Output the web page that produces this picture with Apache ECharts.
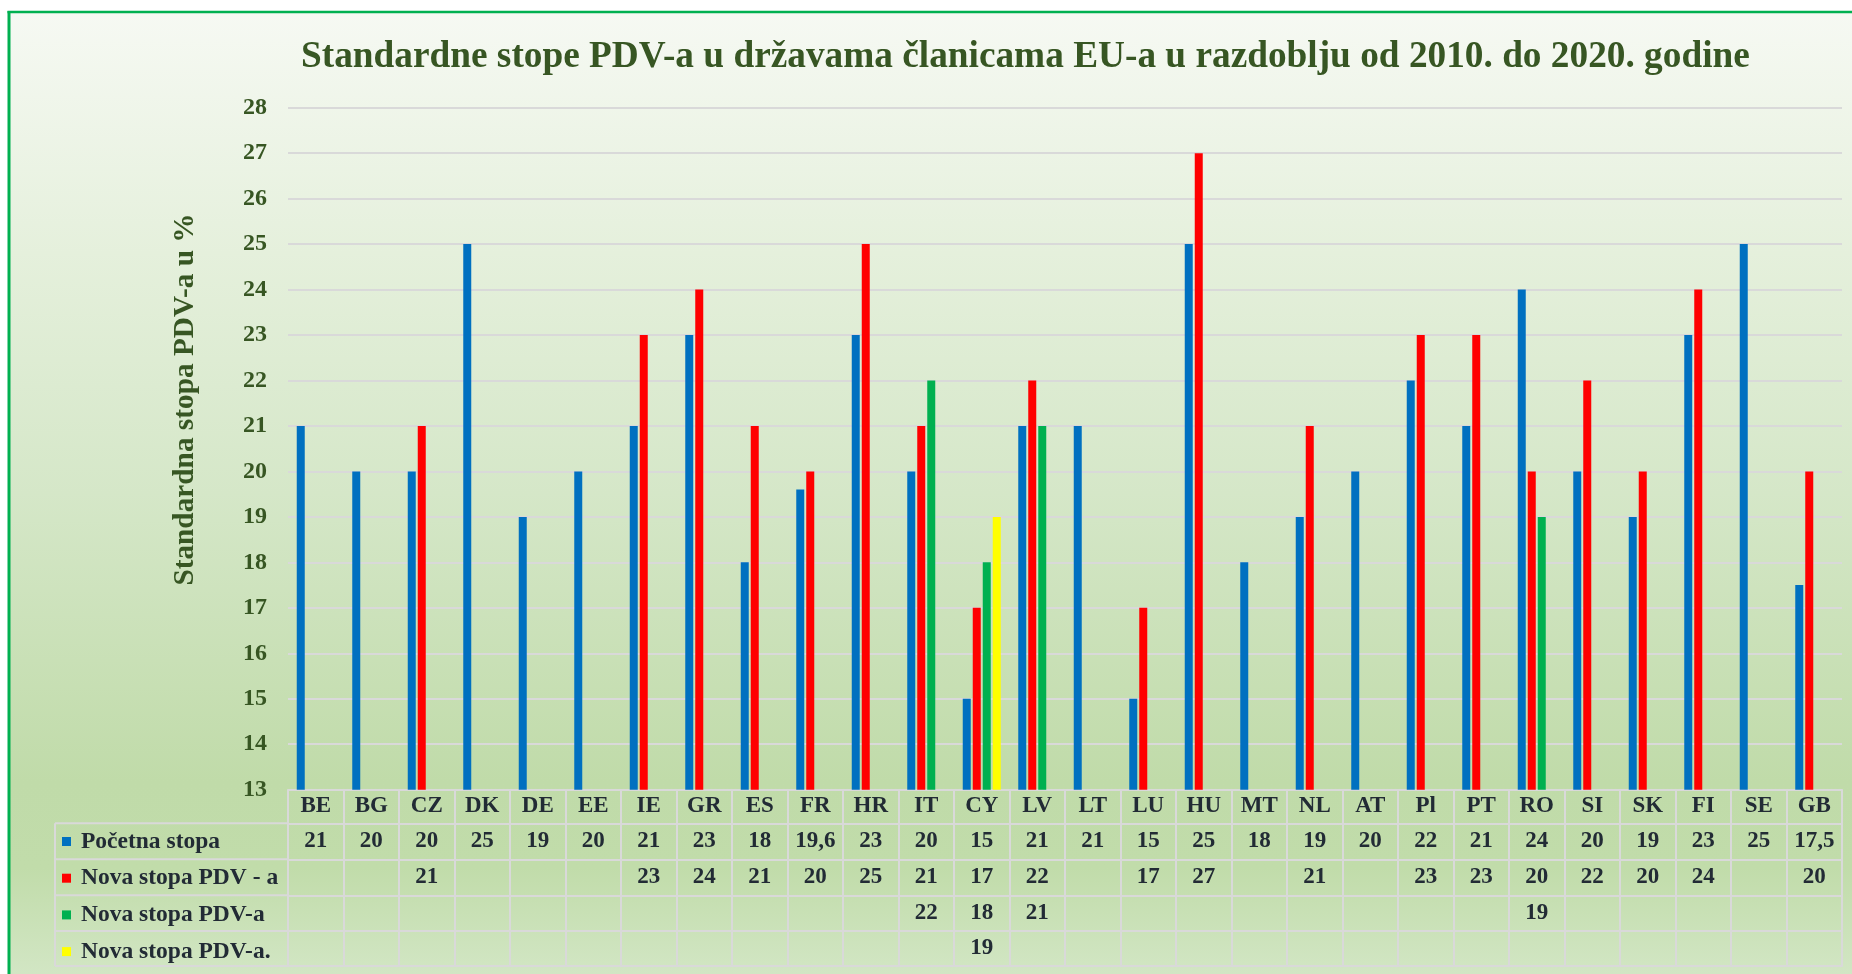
<!DOCTYPE html>
<html>
<head>
<meta charset="utf-8">
<script src="https://cdn.jsdelivr.net/npm/echarts@6/dist/echarts.min.js"></script>
<style>
  html, body { margin: 0; padding: 0; background: #ffffff; }
  #chart { width: 1852px; height: 974px; }
</style>
</head>
<body>
<div id="chart"></div>
<script>
// Standard VAT rates of EU member states, 2010–2020
const categories = ['BE','BG','CZ','DK','DE','EE','IE','GR','ES','FR','HR','IT','CY','LV','LT','LU','HU','MT','NL','AT','Pl','PT','RO','SI','SK','FI','SE','GB'];
const initialRate = [21,20,20,25,19,20,21,23,18,19.6,23,20,15,21,21,15,25,18,19,20,22,21,24,20,19,23,25,17.5];
const newRateA    = [null,null,21,null,null,null,23,24,21,20,25,21,17,22,null,17,27,null,21,null,23,23,20,22,20,24,null,20];
const newRateB    = [null,null,null,null,null,null,null,null,null,null,null,22,18,21,null,null,null,null,null,null,null,null,19,null,null,null,null,null];
const newRateC    = [null,null,null,null,null,null,null,null,null,null,null,null,19,null,null,null,null,null,null,null,null,null,null,null,null,null,null,null];
const seriesNames = ['Početna stopa','Nova stopa PDV - a','Nova stopa PDV-a','Nova stopa PDV-a.'];
const seriesColors = ['#0070c0','#ff0000','#00b050','#ffff00'];
const yMin = 13, yMax = 28, yStep = 1;

const titleText = 'Standardne stope PDV-a u državama članicama EU-a u razdoblju od 2010. do 2020. godine';
const yTitleText = 'Standardna stopa PDV-a u %';

// layout (pixels)
const W = 1852, H = 974;
const PLOT = { left: 288, right: 1842, top: 107.7, bottom: 789.7 };
const TABLE_LEFT = 55;
const ROW_LINES = [789.7, 823.3, 859.3, 895.3, 931, 966];

const FONT = 'Liberation Serif, Times New Roman, serif';
const DARK_GREEN = '#375623';
const TABLE_TEXT = '#222b35';
const RULE = '#d9d9d9';

const rows = [initialRate, newRateA, newRateB, newRateC];
const fmt = v => (v == null ? '' : String(v).replace('.', ','));

const tableLabel = {
  fontFamily: FONT, fontWeight: 'bold', fontSize: 23, color: TABLE_TEXT,
  verticalAlign: 'middle', interval: 0
};

// header row + data rows of the table under the plot, one category axis each
const xAxes = [{
  type: 'category', data: categories, position: 'bottom', offset: 0,
  axisLine: { show: true, onZero: false, lineStyle: { color: RULE, width: 2 } },
  axisTick: { show: true, length: ROW_LINES[1] - ROW_LINES[0], lineStyle: { color: RULE, width: 2 } },
  axisLabel: Object.assign({ margin: (ROW_LINES[1] - ROW_LINES[0]) / 2 }, tableLabel),
  splitLine: { show: false }
}];
rows.forEach((row, k) => {
  const top = ROW_LINES[k + 1], h = ROW_LINES[k + 2] - ROW_LINES[k + 1];
  xAxes.push({
    type: 'category', data: categories, position: 'bottom', offset: top - PLOT.bottom,
    axisLine: { show: true, onZero: false, lineStyle: { color: RULE, width: 2 } },
    axisTick: { show: true, length: h, lineStyle: { color: RULE, width: 2 } },
    axisLabel: Object.assign({ margin: h / 2, formatter: (v, i) => fmt(row[i]) }, tableLabel),
    splitLine: { show: false }
  });
});
xAxes.push({
  type: 'category', data: categories, position: 'bottom', offset: ROW_LINES[5] - PLOT.bottom,
  axisLine: { show: true, onZero: false, lineStyle: { color: RULE, width: 2 } },
  axisTick: { show: false }, axisLabel: { show: false }, splitLine: { show: false }
});

// rules of the row-header cells left of the plot
const leftRules = [];
for (let k = 1; k < ROW_LINES.length; k++) {
  leftRules.push({ type: 'line', z: 1, shape: { x1: TABLE_LEFT, y1: ROW_LINES[k], x2: PLOT.left, y2: ROW_LINES[k] },
    style: { stroke: RULE, lineWidth: 2 } });
}
leftRules.push({ type: 'line', z: 1, shape: { x1: TABLE_LEFT, y1: ROW_LINES[1], x2: TABLE_LEFT, y2: ROW_LINES[5] },
  style: { stroke: RULE, lineWidth: 2 } });

const chart = echarts.init(document.getElementById('chart'), null, { renderer: 'canvas' });
chart.setOption({
  backgroundColor: '#ffffff',
  animation: false,
  title: {
    text: titleText, left: 301, top: 39, padding: 0,
    textStyle: { fontFamily: FONT, fontWeight: 'bold', fontSize: 37.3, color: DARK_GREEN }
  },
  legend: {
    orient: 'vertical', left: 57, top: 824.5, padding: 5,
    itemWidth: 9, itemHeight: 9, itemGap: 12.7, icon: 'rect', selectedMode: false,
    data: seriesNames,
    textStyle: { fontFamily: FONT, fontWeight: 'bold', fontSize: 23.5, lineHeight: 23, color: TABLE_TEXT, padding: [0, 0, 0, 5] }
  },
  grid: { left: PLOT.left, right: W - PLOT.right, top: PLOT.top, bottom: H - PLOT.bottom, containLabel: false },
  xAxis: xAxes,
  yAxis: {
    type: 'value', min: yMin, max: yMax, interval: yStep,
    axisLine: { show: false }, axisTick: { show: false },
    axisLabel: { fontFamily: FONT, fontWeight: 'bold', fontSize: 24, color: DARK_GREEN, margin: 21 },
    splitLine: { show: true, lineStyle: { color: RULE, width: 2 } }
  },
  graphic: [
    // chart area: gradient fill with green frame on the left and top
    { type: 'rect', z: -10, shape: { x: 9, y: 12, width: W, height: H - 12 },
      style: { fill: new echarts.graphic.LinearGradient(0, 0, 0, 1, [
        { offset: 0, color: '#f6f9f3' },
        { offset: 0.25, color: '#e5f0dc' },
        { offset: 0.5, color: '#d5e7c8' },
        { offset: 0.8, color: '#c0dba9' },
        { offset: 0.89, color: '#c1dcaa' },
        { offset: 1, color: '#d2e6c4' }
      ]) } },
    { type: 'line', z: -5, shape: { x1: 9, y1: 11, x2: 9, y2: H }, style: { stroke: '#00b050', lineWidth: 3 } },
    { type: 'line', z: -5, shape: { x1: 7.5, y1: 12, x2: W, y2: 12 }, style: { stroke: '#00b050', lineWidth: 2.5 } },
    { type: 'text', z: 5, x: 185, y: 399.5, rotation: Math.PI / 2,
      style: { text: yTitleText, fontFamily: FONT, fontWeight: 'bold', fontSize: 29.3, fill: DARK_GREEN,
        align: 'center', verticalAlign: 'middle' } }
  ].concat(leftRules),
  series: [initialRate, newRateA, newRateB, newRateC].map((vals, i) => ({
    name: seriesNames[i], type: 'bar', xAxisIndex: 0, yAxisIndex: 0,
    data: vals.map(v => (v == null ? '-' : v)),
    barWidth: 8, barGap: '25%',
    itemStyle: { color: seriesColors[i] }
  }))
});
</script>
</body>
</html>
